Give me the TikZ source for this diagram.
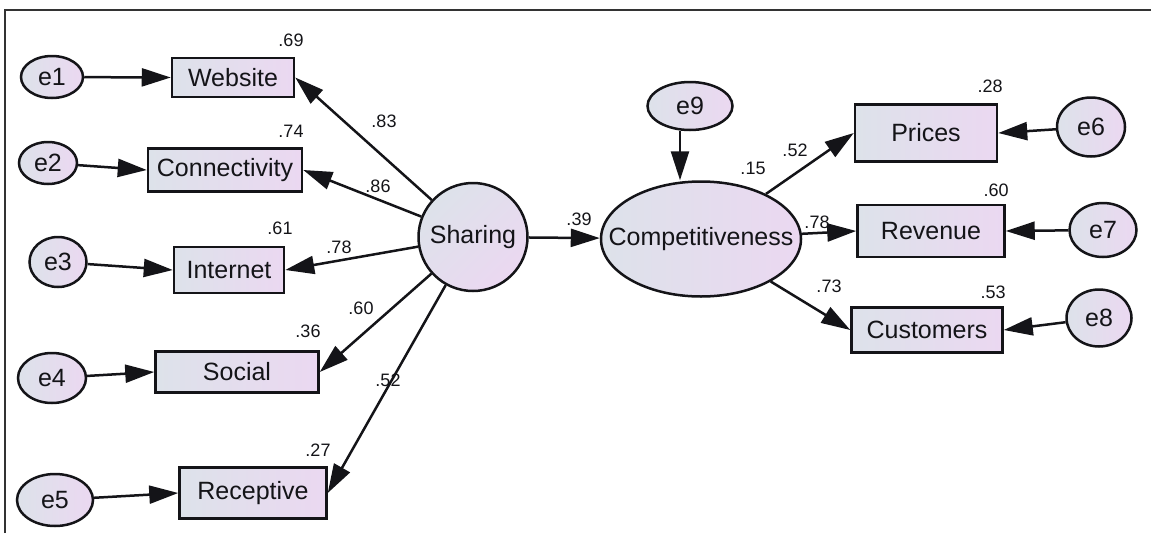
\documentclass[tikz,border=0pt]{standalone}
\usepackage{fontspec}
\setmainfont{Liberation Sans}
\usetikzlibrary{arrows.meta,shapes.geometric}
\definecolor{fillL}{HTML}{DDE2EA}
\definecolor{fillR}{HTML}{EBD8F1}
\definecolor{ink}{HTML}{141418}
\tikzset{
  base/.style={draw=ink, line width=2.5pt, left color=fillL, right color=fillR,
    text=ink, inner sep=0pt, font=\fontsize{25}{30}\selectfont},
  obs/.style={base, rectangle},
  lat/.style={base, ellipse},
  coef/.style={text=ink, inner sep=0pt, font=\fontsize{18}{22}\selectfont},
  arr/.style={draw=ink, line width=2.5pt, -{Triangle[length=29pt,width=18pt]}},
}
% label set in a zero-width box so that the ellipse keeps its given size
\newcommand{\zlabel}[1]{\makebox[0pt]{#1}}
\begin{document}
\begin{tikzpicture}[x=1pt,y=-1pt]
\useasboundingbox (0,0) rectangle (1151,533);
% open frame: top and left rules
\draw[line width=1.2pt, draw=black!80] (5,533) -- (5,10) -- (1151,10);

% indicators of Sharing
\node[obs, minimum width=122pt, minimum height=39pt] (web) at (233,77.5) {Website};
\node[obs, minimum width=154pt, minimum height=43pt] (con) at (225,170) {Connectivity};
\node[obs, minimum width=110pt, minimum height=46pt] (int) at (229,270) {Internet};
\node[obs, minimum width=163pt, minimum height=41pt] (soc) at (237,372) {Social};
\node[obs, minimum width=147pt, minimum height=51pt] (rec) at (253,493) {Receptive};

% error terms on the left
\node[lat, minimum width=62pt, minimum height=42pt] (e1) at (52,77) {\zlabel{e1}};
\node[lat, minimum width=58pt, minimum height=42pt] (e2) at (48,163) {\zlabel{e2}};
\node[lat, minimum width=57pt, minimum height=50pt] (e3) at (58,262) {\zlabel{e3}};
\node[lat, minimum width=68pt, minimum height=50pt] (e4) at (52,378) {\zlabel{e4}};
\node[lat, minimum width=76pt, minimum height=52pt] (e5) at (55,500) {\zlabel{e5}};

% latent variables
\node[lat, shading angle=45, minimum width=109pt, minimum height=108pt] (sh) at (473,237) {\zlabel{Sharing}};
\node[lat, minimum width=200pt, minimum height=115pt] (comp) at (701,239) {\zlabel{Competitiveness}};
\node[lat, minimum width=85pt, minimum height=48pt] (e9) at (690,106) {\zlabel{e9}};

% indicators of Competitiveness
\node[obs, minimum width=142pt, minimum height=57pt] (pri) at (926,133) {Prices};
\node[obs, minimum width=147pt, minimum height=52pt] (rev) at (931,231) {Revenue};
\node[obs, minimum width=151pt, minimum height=45pt] (cus) at (927,330) {Customers};

% error terms on the right
\node[lat, minimum width=68pt, minimum height=59pt] (e6) at (1091,127) {\zlabel{e6}};
\node[lat, minimum width=67pt, minimum height=54pt] (e7) at (1103,230) {\zlabel{e7}};
\node[lat, minimum width=65pt, minimum height=57pt] (e8) at (1099,318) {\zlabel{e8}};

% error paths
\draw[arr] (e1) -- (web.west);
\draw[arr] (e2) -- (con.west);
\draw[arr] (e3) -- (int.west);
\draw[arr] (e4) -- (soc.west);
\draw[arr] (e5) -- (rec.west);
\draw[arr] (e6) -- (pri.east);
\draw[arr] (e7) -- (rev.east);
\draw[arr] (e8) -- (cus.east);
\draw[arr] ([xshift=-10pt]e9.south) -- ([xshift=-10pt]e9.south |- comp.north);

% loadings and structural path
\draw[arr] (sh) -- (web.east);
\draw[arr] (sh) -- (con.east);
\draw[arr] (sh) -- (int.east);
\draw[arr] (sh) -- (soc.east);
\draw[arr] (sh) -- (rec.east);
\draw[arr] (sh) -- (comp);
\draw[arr] (comp) -- (pri.west);
\draw[arr] (comp) -- (rev.west);
\draw[arr] (comp) -- (cus.west);

% squared multiple correlations
\node[coef] (r1) at (291,40) {.69};
\node[coef] (r2) at (291,131) {.74};
\node[coef] (r3) at (280,228) {.61};
\node[coef] (r4) at (308,331) {.36};
\node[coef] (r5) at (318,450) {.27};
\node[coef] (r9) at (753,168) {.15};
\node[coef] (r6) at (990,86) {.28};
\node[coef] (r7) at (996,190) {.60};
\node[coef] (r8) at (993,292) {.53};

% standardized estimates
\node[coef] (l1) at (384,121) {.83};
\node[coef] (l2) at (378,186) {.86};
\node[coef] (l3) at (339,247) {.78};
\node[coef] (l4) at (361,308) {.60};
\node[coef] (l5) at (388,380) {.52};
\node[coef] (b1) at (579,219) {.39};
\node[coef] (l6) at (795,150) {.52};
\node[coef] (l7) at (817,222) {.78};
\node[coef] (l8) at (829,286) {.73};
\end{tikzpicture}
\end{document}
